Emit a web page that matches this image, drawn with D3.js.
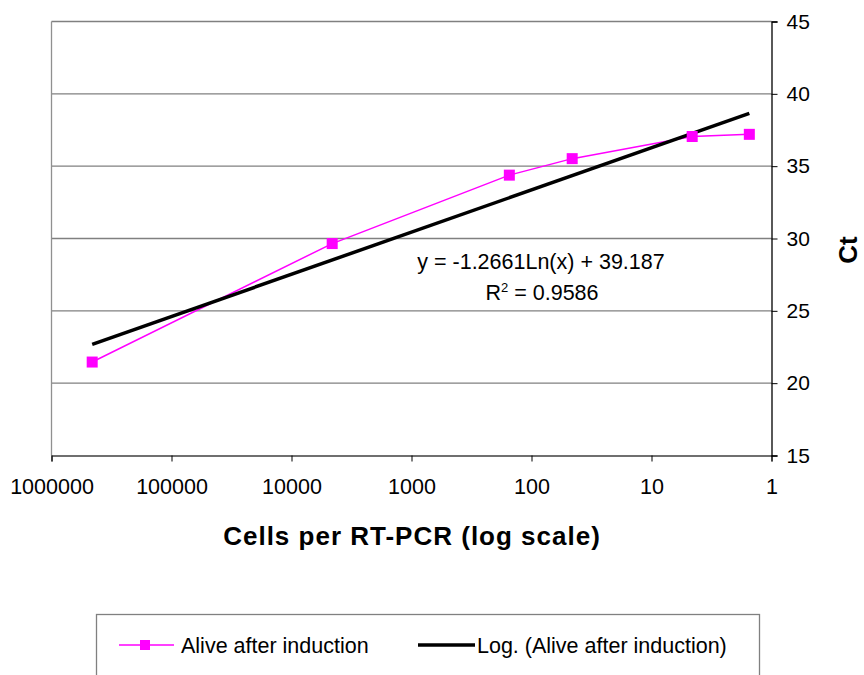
<!DOCTYPE html>
<html>
<head>
<meta charset="utf-8">
<script src="https://cdn.jsdelivr.net/npm/d3@7"></script>
<style>
  html, body { margin: 0; padding: 0; background: #fff; }
  svg { display: block; font-family: "Liberation Sans", Arial, sans-serif; }
</style>
</head>
<body>
<svg id="chart" width="864" height="675"></svg>
<script>
// ---- data ----
const cells = [458000, 4580, 153, 45.8, 4.58, 1.53];
const ctValues = [21.46, 29.65, 34.38, 35.52, 37.05, 37.2];
const xTickValues = [1000000, 100000, 10000, 1000, 100, 10, 1];
const yTickValues = [15, 20, 25, 30, 35, 40, 45];
const trendSlope = -1.2661;
const trendIntercept = 39.187;
const trendR2 = 0.9586;
const seriesName = "Alive after induction";
const trendName = "Log. (Alive after induction)";

// ---- layout ----
const svg = d3.select("#chart");
const plot = { left: 51.5, right: 771.5, top: 21.5, bottom: 455.5 };

const x = d3.scaleLog().domain([1000000, 1]).range([plot.left, plot.right]);
const y = d3.scaleLinear().domain([15, 45]).range([plot.bottom, plot.top]);

// gridlines
svg.append("g").selectAll("line")
  .data(yTickValues.filter(v => v > 15))
  .join("line")
  .attr("x1", plot.left).attr("x2", plot.right)
  .attr("y1", d => y(d)).attr("y2", d => y(d))
  .attr("stroke", "#808080").attr("stroke-width", 1.3);

// left border (gray)
svg.append("line")
  .attr("x1", plot.left).attr("x2", plot.left)
  .attr("y1", plot.top).attr("y2", plot.bottom)
  .attr("stroke", "#909090").attr("stroke-width", 1.3);

// bottom axis
const xAxis = d3.axisBottom(x).tickValues(xTickValues).tickSize(6)
  .tickFormat(d => String(d));
const gx = svg.append("g").attr("transform", `translate(0,${plot.bottom})`).call(xAxis);
gx.select(".domain").attr("stroke", "#404040").attr("stroke-width", 1.3);
gx.selectAll(".tick line").attr("stroke", "#000").attr("stroke-width", 1);
gx.selectAll(".tick text").attr("font-size", 21.5).attr("fill", "#000")
  .attr("font-family", "Liberation Sans, Arial, sans-serif").attr("dy", "1.38em");

// right axis
const yAxis = d3.axisRight(y).tickValues(yTickValues).tickSize(6);
const gy = svg.append("g").attr("transform", `translate(${plot.right},0)`).call(yAxis);
gy.select(".domain").attr("stroke", "#000").attr("stroke-width", 1.3);
gy.selectAll(".tick line").attr("stroke", "#000");
gy.selectAll(".tick text").attr("font-size", 21).attr("fill", "#000")
  .attr("font-family", "Liberation Sans, Arial, sans-serif").attr("x", 15);

// data series line
const pts = cells.map((c, i) => ({ x: c, y: ctValues[i] }));
svg.append("path")
  .datum(pts)
  .attr("fill", "none")
  .attr("stroke", "#ff00ff")
  .attr("stroke-width", 1.5)
  .attr("d", d3.line().x(d => x(d.x)).y(d => y(d.y)));

// trend line (logarithmic fit, straight on log axis)
const xExt = d3.extent(cells);
const trendPts = [xExt[1], xExt[0]].map(c => ({ x: c, y: trendSlope * Math.log(c) + trendIntercept }));
svg.append("path")
  .datum(trendPts)
  .attr("fill", "none")
  .attr("stroke", "#000")
  .attr("stroke-width", 3.5)
  .attr("d", d3.line().x(d => x(d.x)).y(d => y(d.y)));

// markers
svg.append("g").selectAll("rect")
  .data(pts)
  .join("rect")
  .attr("x", d => x(d.x) - 5.5).attr("y", d => y(d.y) - 5.5)
  .attr("width", 11).attr("height", 11)
  .attr("fill", "#ff00ff");

// equation label
const eq = svg.append("text").attr("text-anchor", "middle").attr("font-size", 21.5).attr("fill", "#000");
eq.append("tspan").attr("x", 541).attr("y", 269)
  .text(`y = ${trendSlope}Ln(x) + ${trendIntercept}`);
const r2 = svg.append("text").attr("text-anchor", "middle").attr("font-size", 21.5).attr("fill", "#000")
  .attr("x", 542).attr("y", 300);
r2.append("tspan").text("R");
r2.append("tspan").attr("font-size", 13).attr("dy", -8).text("2");
r2.append("tspan").attr("dy", 8).text(` = ${trendR2}`);

// axis titles
svg.append("text")
  .attr("x", 412).attr("y", 545)
  .attr("text-anchor", "middle")
  .attr("font-size", 26).attr("font-weight", "bold")
  .attr("letter-spacing", 1)
  .text("Cells per RT-PCR (log scale)");

svg.append("text")
  .attr("transform", "translate(857,250) rotate(-90)")
  .attr("text-anchor", "middle")
  .attr("font-size", 26).attr("font-weight", "bold")
  .text("Ct");

// legend
const lg = svg.append("g");
lg.append("rect")
  .attr("x", 96.5).attr("y", 614.5).attr("width", 663).attr("height", 80)
  .attr("fill", "#fff").attr("stroke", "#808080").attr("stroke-width", 1.3);
lg.append("line").attr("x1", 119).attr("x2", 174).attr("y1", 645).attr("y2", 645)
  .attr("stroke", "#ff00ff").attr("stroke-width", 1.5);
lg.append("rect").attr("x", 140).attr("y", 640).attr("width", 10).attr("height", 10).attr("fill", "#ff00ff");
lg.append("text").attr("x", 181).attr("y", 653).attr("font-size", 21.5).text(seriesName);
lg.append("line").attr("x1", 418).attr("x2", 475).attr("y1", 645).attr("y2", 645)
  .attr("stroke", "#000").attr("stroke-width", 3.5);
lg.append("text").attr("x", 477).attr("y", 653).attr("font-size", 21.5).text(trendName);
</script>
</body>
</html>
